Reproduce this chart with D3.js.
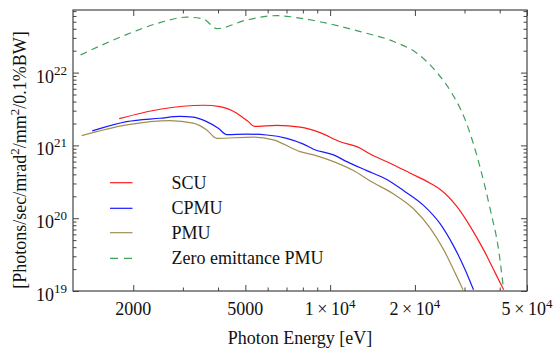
<!DOCTYPE html>
<html>
<head>
<meta charset="utf-8">
<script src="https://cdn.jsdelivr.net/npm/d3@7"></script>
<style>
  html, body { margin: 0; padding: 0; background: #fff; }
  svg { display: block; }
</style>
</head>
<body>
<svg id="chart" width="554" height="349"></svg>
<script>
// ---- data ----
const seriesNames = ["SCU", "CPMU", "PMU", "Zero emittance PMU"];

const scuEnergy = [1783, 2488, 3548, 4064, 4660, 5124, 5383, 6469, 7822, 9205, 10790, 12790, 13870, 16330, 19250, 22660, 24600, 28210, 31460, 35080, 38590, 41300];
const scuFlux   = [2.33e21, 3.14e21, 3.56e21, 3.41e21, 2.77e21, 2.12e21, 1.82e21, 1.88e21, 1.78e21, 1.50e21, 1.13e21, 9.16e20, 7.6e20, 5.69e20, 4.15e20, 3.03e20, 2.48e20, 1.44e20, 7.67e19, 3.67e19, 1.76e19, 1.04e19];

const cpmuEnergy = [1430, 1895, 2488, 2930, 3266, 3646, 4009, 4296, 5058, 5959, 7018, 8041, 8724, 10280, 11460, 13500, 15890, 18200, 21460, 24600, 27420, 30180, 32290];
const cpmuFlux   = [1.58e21, 2.12e21, 2.36e21, 2.50e21, 2.44e21, 2.12e21, 1.72e21, 1.41e21, 1.43e21, 1.39e21, 1.25e21, 1.04e21, 8.87e20, 7.41e20, 5.99e20, 4.5e20, 3.4e20, 2.4e20, 1.5e20, 8.35e19, 4.17e19, 1.95e19, 1.04e19];

const pmuEnergy = [1312, 1895, 2700, 3266, 3646, 3957, 5337, 6288, 7822, 8974, 10280, 12100, 13870, 16800, 19770, 22660, 25290, 27800, 29630];
const pmuFlux   = [1.36e21, 1.91e21, 2.19e21, 2.02e21, 1.63e21, 1.25e21, 1.30e21, 1.19e21, 8.22e20, 7.18e20, 5.99e20, 4.51e20, 3.25e20, 2.15e20, 1.35e20, 7.3e19, 3.7e19, 1.76e19, 1.04e19];

const zeroEnergy = [1300, 1652, 2056, 2488, 3096, 3548, 3957, 5058, 6469, 7413, 9727, 12790, 16800, 20330, 23950, 27060, 30180, 33650, 37050, 39640, 41300];
const zeroFlux   = [1.75e22, 2.67e22, 3.78e22, 4.86e22, 5.77e22, 5.47e22, 4.02e22, 5.29e22, 6.07e22, 5.77e22, 4.77e22, 3.66e22, 2.67e22, 1.85e22, 1.0e22, 5.2e21, 2.24e21, 5.98e20, 1.30e20, 3.67e19, 1.04e19];

const xMajorTicks = [2000, 5000, 10000, 20000, 50000];
const xMinorTicks = [3000, 4000, 6000, 7000, 8000, 9000, 30000, 40000];
const xTickLabels = [["2000", null], ["5000", null], ["1\u2009\u00d7\u200910", "4"], ["2\u2009\u00d7\u200910", "4"], ["5\u2009\u00d7\u200910", "4"]];
const yMajorTicks = [1e19, 1e20, 1e21, 1e22];
const yTickExponents = ["19", "20", "21", "22"];
const xDomain = [1222, 50000];
const yDomain = [1e19, Math.pow(10, 22.86)];

// ---- layout ----
const FONT = "'Liberation Serif', 'Times New Roman', Times, serif";
const FS = 18, FSS = 13;
const L = 73, R = 527, T = 10, B = 291;
const svg = d3.select("#chart").attr("font-family", FONT).style("font-family", FONT);
const x = d3.scaleLog().domain(xDomain).range([L, R]);
const y = d3.scaleLog().domain(yDomain).range([B, T]);

const yMinorU = [];
yMajorTicks.forEach(d => { for (let k = 2; k <= 9; k++) { const v = d * k; if (v < yDomain[1]) yMinorU.push(v); } });

const frameColor = "#444";

svg.append("defs").append("clipPath").attr("id", "plotclip")
  .append("rect").attr("x", L).attr("y", T).attr("width", R - L).attr("height", B - T);

function styleAxis(g) {
  g.select(".domain").remove();
  g.selectAll("line").attr("stroke", frameColor).attr("stroke-width", 1);
  g.selectAll("text").remove();
}
svg.append("g").attr("transform", `translate(0,${B})`).call(d3.axisBottom(x).tickValues(xMajorTicks).tickSize(-6).tickFormat("")).call(styleAxis);
svg.append("g").attr("transform", `translate(0,${B})`).call(d3.axisBottom(x).tickValues(xMinorTicks).tickSize(-3.5).tickFormat("")).call(styleAxis);
svg.append("g").attr("transform", `translate(0,${T})`).call(d3.axisTop(x).tickValues(xMajorTicks).tickSize(-6).tickFormat("")).call(styleAxis);
svg.append("g").attr("transform", `translate(0,${T})`).call(d3.axisTop(x).tickValues(xMinorTicks).tickSize(-3.5).tickFormat("")).call(styleAxis);
svg.append("g").attr("transform", `translate(${L},0)`).call(d3.axisLeft(y).tickValues(yMajorTicks).tickSize(-6).tickFormat("")).call(styleAxis);
svg.append("g").attr("transform", `translate(${L},0)`).call(d3.axisLeft(y).tickValues(yMinorU).tickSize(-3.5).tickFormat("")).call(styleAxis);
svg.append("g").attr("transform", `translate(${R},0)`).call(d3.axisRight(y).tickValues(yMajorTicks).tickSize(-6).tickFormat("")).call(styleAxis);
svg.append("g").attr("transform", `translate(${R},0)`).call(d3.axisRight(y).tickValues(yMinorU).tickSize(-3.5).tickFormat("")).call(styleAxis);

svg.append("rect").attr("x", L).attr("y", T).attr("width", R - L).attr("height", B - T)
  .attr("fill", "none").attr("stroke", frameColor).attr("stroke-width", 1.2);

function txt(sel) { return sel.attr("font-family", FONT).attr("fill", "#111"); }

xMajorTicks.forEach((v, i) => {
  const [base, sup] = xTickLabels[i];
  const t = txt(svg.append("text")).attr("x", x(v)).attr("y", 315).attr("text-anchor", "middle").attr("font-size", FS);
  t.append("tspan").text(base);
  if (sup) t.append("tspan").attr("dy", -7).attr("font-size", FSS).text(sup);
});

yMajorTicks.forEach((v, i) => {
  const t = txt(svg.append("text")).attr("x", 67).attr("y", y(v) + 10).attr("text-anchor", "end").attr("font-size", FS);
  t.append("tspan").text("10");
  t.append("tspan").attr("dy", -8).attr("font-size", FSS).text(yTickExponents[i]);
});

txt(svg.append("text")).attr("x", 300).attr("y", 344).attr("text-anchor", "middle").attr("font-size", FS)
  .text("Photon Energy [eV]");
const yt = txt(svg.append("text")).attr("transform", "translate(26,160) rotate(-90)").attr("text-anchor", "middle").attr("font-size", FS);
yt.append("tspan").text("[Photons/sec/mrad");
yt.append("tspan").attr("dy", -7).attr("font-size", FSS).text("2");
yt.append("tspan").attr("dy", 7).text("/mm");
yt.append("tspan").attr("dy", -7).attr("font-size", FSS).text("2");
yt.append("tspan").attr("dy", 7).text("/0.1%BW]");

const series = [
  { name: seriesNames[0], e: scuEnergy, f: scuFlux, color: "#ff1a1a", dash: null },
  { name: seriesNames[1], e: cpmuEnergy, f: cpmuFlux, color: "#1a1aff", dash: null },
  { name: seriesNames[2], e: pmuEnergy, f: pmuFlux, color: "#a08f50", dash: null },
  { name: seriesNames[3], e: zeroEnergy, f: zeroFlux, color: "#3f9f5c", dash: "7,5" }
];
const line = d3.line().x(d => x(d[0])).y(d => y(d[1])).curve(d3.curveMonotoneX);
const plot = svg.append("g").attr("clip-path", "url(#plotclip)");
series.forEach(s => {
  const pts = s.e.map((e, i) => [e, s.f[i]]);
  plot.append("path").datum(pts).attr("d", line)
    .attr("fill", "none").attr("stroke", s.color).attr("stroke-width", 1.2)
    .attr("stroke-dasharray", s.dash);
});

const legY = [182.7, 208.3, 232.7, 258.3];
series.forEach((s, i) => {
  svg.append("line").attr("x1", 110).attr("x2", 132.5).attr("y1", legY[i]).attr("y2", legY[i])
    .attr("stroke", s.color).attr("stroke-width", 1.2).attr("stroke-dasharray", s.dash ? "8,6" : null);
  txt(svg.append("text")).attr("x", 171.5).attr("y", legY[i] + 6).attr("font-size", FS).text(s.name);
});
</script>
</body>
</html>
